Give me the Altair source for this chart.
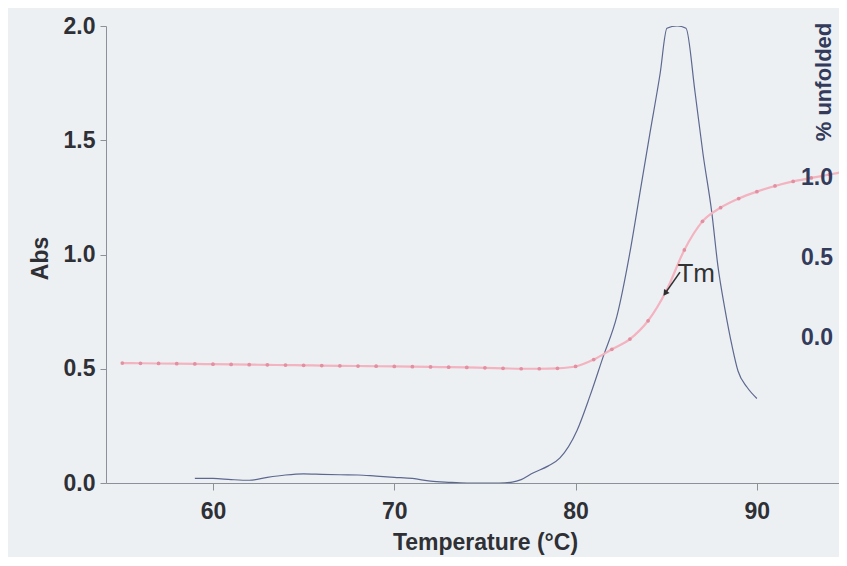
import altair as alt
import pandas as pd

# Blue trace (absorbance peak)
blue_temp = [59.0, 60.0, 61.0, 62.0, 63.0, 64.0, 65.0, 66.0, 67.0, 68.0, 69.0, 70.0,
             71.0, 72.0, 73.0, 74.0, 75.0, 75.8, 76.5, 77.0, 77.65, 78.5, 79.14, 80.08,
             80.79, 81.51, 82.28, 83.0, 83.55, 84.1, 84.66, 85.04, 85.6, 86.09, 86.59,
             87.03, 87.52, 87.85, 88.24, 88.63, 88.96, 89.45, 90.0]
blue_abs = [0.02, 0.02, 0.015, 0.012, 0.025, 0.035, 0.04, 0.038, 0.036, 0.035, 0.03, 0.025,
            0.02, 0.008, 0.003, 0.0, 0.0, 0.0, 0.004, 0.015, 0.044, 0.075, 0.11, 0.23,
            0.38, 0.55, 0.73, 1.01, 1.27, 1.53, 1.79, 1.99, 2.0, 1.99, 1.71,
            1.44, 1.18, 0.95, 0.76, 0.60, 0.49, 0.42, 0.37]

# Pink melting curve with markers (one per degree)
pink_temp = [55, 56, 57, 58, 59, 60, 61, 62, 63, 64, 65, 66, 67, 68, 69, 70, 71, 72, 73, 74,
             75, 76, 77, 78, 79, 80, 81, 82, 83, 84, 85, 86, 87, 88, 89, 90, 91, 92, 93, 94, 95]
pink_abs = [0.525, 0.524, 0.523, 0.522, 0.521, 0.520, 0.519, 0.518, 0.517, 0.516, 0.515,
            0.514, 0.513, 0.512, 0.511, 0.510, 0.509, 0.508, 0.507, 0.506, 0.504, 0.502,
            0.500, 0.500, 0.502, 0.510, 0.540, 0.585, 0.630, 0.710, 0.840, 1.020, 1.145,
            1.205, 1.245, 1.275, 1.300, 1.320, 1.335, 1.350, 1.365]

# Right-hand "% unfolded" scale labels
unfolded_vals = [0.0, 0.5, 1.0]
unfolded_text = ["0.0", "0.5", "1.0"]

# Tm annotation
tm_label = ["Tm"]
tm_temp = [85.62]
tm_abs = [0.915]
arrow_from = [85.76, 0.923]
arrow_to = [84.94, 0.83]

x_dom = [54.1, 94.53]
y_dom = [0, 2]
u_dom = [-0.907, 1.95]

blue_df = pd.DataFrame({"T": blue_temp, "A": blue_abs})
pink_df = pd.DataFrame({"T": pink_temp, "A": pink_abs})
unf_df = pd.DataFrame({"u": unfolded_vals, "lab": unfolded_text})
tm_df = pd.DataFrame({"T": tm_temp, "A": tm_abs, "lab": tm_label})
arrow_df = pd.DataFrame({"T": [arrow_from[0]], "A": [arrow_from[1]],
                         "T2": [arrow_to[0]], "A2": [arrow_to[1]]})

LABEL_COLOR = "#2f3036"
AXIS_COLOR = "#8c9099"
RIGHT_COLOR = "#333a5a"

xscale = alt.Scale(domain=x_dom, nice=False, zero=False)
yscale = alt.Scale(domain=y_dom, nice=False, zero=False)
uscale = alt.Scale(domain=u_dom, nice=False, zero=False)

x_axis = alt.Axis(values=[60, 70, 80, 90], title="Temperature (°C)", grid=False,
                  labelFont="Liberation Sans", labelFontWeight="bold", labelFontSize=23,
                  labelColor=LABEL_COLOR, labelPadding=10, tickSize=7, tickColor=AXIS_COLOR,
                  domainColor=AXIS_COLOR, titleFont="Liberation Sans", titleFontWeight="bold",
                  titleFontSize=23, titleColor=LABEL_COLOR, titleX=379, titleY=59,
                  titleBaseline="middle", titleAnchor="start", titleAlign="center")
y_axis = alt.Axis(values=[0, 0.5, 1.0, 1.5, 2.0], format=".1f", title="Abs", grid=False,
                  labelFont="Liberation Sans", labelFontWeight="bold", labelFontSize=23,
                  labelColor=LABEL_COLOR, labelPadding=5, tickSize=6, tickColor=AXIS_COLOR,
                  domainColor=AXIS_COLOR, titleFont="Liberation Sans", titleFontWeight="bold",
                  titleFontSize=23, titleColor=LABEL_COLOR, titleAngle=-90, titleX=-66,
                  titleY=232, titleBaseline="middle", titleAlign="center")

blue = alt.Chart(blue_df).mark_line(color="#5d6890", strokeWidth=1.2, interpolate="monotone",
                                    clip=True).encode(
    x=alt.X("T:Q", scale=xscale, axis=x_axis),
    y=alt.Y("A:Q", scale=yscale, axis=y_axis),
    order=alt.Order("T:Q"),
)

pink = alt.Chart(pink_df).mark_line(
    color="#f3b3c0", strokeWidth=2.2, interpolate="monotone", clip=True,
    point=alt.OverlayMarkDef(color="#e28f9f", size=14, filled=True, clip=True),
).encode(
    x=alt.X("T:Q", scale=xscale),
    y=alt.Y("A:Q", scale=yscale),
)

arrow_line = alt.Chart(arrow_df).mark_rule(color="#303030", strokeWidth=1.6).encode(
    x=alt.X("T:Q", scale=xscale), y=alt.Y("A:Q", scale=yscale),
    x2="T2:Q", y2="A2:Q",
)
arrow_head = alt.Chart(arrow_df).mark_point(
    shape="triangle-down", filled=True, color="#303030", size=45, angle=35, opacity=1
).encode(
    x=alt.X("T2:Q", scale=xscale), y=alt.Y("A2:Q", scale=yscale),
)

tm_text = alt.Chart(tm_df).mark_text(
    font="Liberation Sans", fontSize=26, color="#333333", align="left", baseline="middle"
).encode(
    x=alt.X("T:Q", scale=xscale), y=alt.Y("A:Q", scale=yscale), text="lab:N",
)

main = alt.layer(blue, pink, arrow_line, arrow_head, tm_text)

right_labels = alt.Chart(unf_df).mark_text(
    font="Liberation Sans", fontWeight="bold", fontSize=23, color=RIGHT_COLOR,
    align="right", baseline="middle"
).encode(
    x=alt.X(datum=94.2, scale=xscale),
    y=alt.Y("u:Q", scale=uscale, axis=None),
    text="lab:N",
)

right_title = alt.Chart(unf_df.head(1)).mark_text(
    font="Liberation Sans", fontWeight="bold", fontSize=22, color=RIGHT_COLOR,
    align="center", baseline="middle", angle=270
).encode(
    x=alt.X(datum=93.72, scale=xscale),
    y=alt.Y(datum=1.60, scale=uscale, axis=None),
    text=alt.value("% unfolded"),
)

chart = alt.layer(main, right_labels, right_title).resolve_scale(y="independent").properties(
    width=733, height=457,
    autosize=alt.AutoSizeParams(type="none"),
    padding={"left": 98, "top": 18, "right": 0, "bottom": 74},
    background="#edf0f3",
).configure_view(stroke=None)

chart.save("out.html", embed_options={"renderer": "svg", "actions": False})
